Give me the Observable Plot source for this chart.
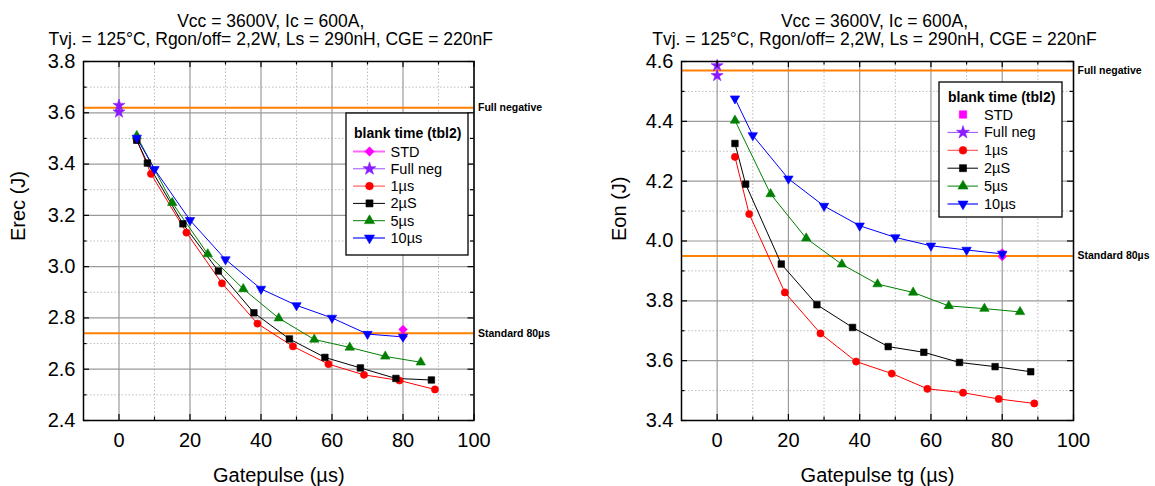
<!DOCTYPE html>
<html>
<head>
<meta charset="utf-8">
<script src="https://cdn.jsdelivr.net/npm/d3@7"></script>
<script src="https://cdn.jsdelivr.net/npm/@observablehq/plot@0.6"></script>
<style>
  html, body { margin: 0; padding: 0; background: #fff; }
  #wrap { position: relative; width: 1155px; height: 486px; overflow: hidden; }
  #wrap > .chart { position: absolute; top: 0; }
  #wrap > .legend { position: absolute; }
</style>
</head>
<body>
<div id="wrap"></div>
<script>
// ---------------- DATA ----------------
const titleLines = ["Vcc = 3600V, Ic = 600A,", "Tvj. = 125°C, Rgon/off= 2,2W, Ls = 290nH, CGE = 220nF"];
const legendTitle = "blank time (tbl2)";
const seriesNames = ["STD", "Full neg", "1µs", "2µS", "5µs", "10µs"];

const xTicks = [0, 20, 40, 60, 80, 100];
const xMinorTicks = [10, 30, 50, 70, 90];

// Left chart: Erec
const erecYTicks = [2.4, 2.6, 2.8, 3.0, 3.2, 3.4, 3.6, 3.8];
const erecYMinor = [2.5, 2.7, 2.9, 3.1, 3.3, 3.5, 3.7];
const erecX_STD = [80, 80];
const erecY_STD = [2.755, 2.728];
const erecX_FullNeg = [0, 0];
const erecY_FullNeg = [3.629, 3.603];
const erecX_1us = [5, 9, 19, 29, 39, 49, 59, 69, 79, 89];
const erecY_1us = [3.495, 3.362, 3.133, 2.935, 2.778, 2.689, 2.620, 2.578, 2.556, 2.521];
const erecX_2uS = [5, 8, 18, 28, 38, 48, 58, 68, 78, 88];
const erecY_2uS = [3.493, 3.404, 3.167, 2.983, 2.820, 2.718, 2.646, 2.605, 2.564, 2.558];
const erecX_5us = [5, 15, 25, 35, 45, 55, 65, 75, 85];
const erecY_5us = [3.510, 3.249, 3.049, 2.913, 2.799, 2.716, 2.685, 2.650, 2.627];
const erecX_10us = [5, 10, 20, 30, 40, 50, 60, 70, 80];
const erecY_10us = [3.502, 3.380, 3.181, 3.028, 2.913, 2.849, 2.800, 2.737, 2.726];
const erecRefValues = [3.62, 2.74];
const erecRefLabels = ["Full negative", "Standard 80µs"];

// Right chart: Eon
const eonYTicks = [3.4, 3.6, 3.8, 4.0, 4.2, 4.4, 4.6];
const eonYMinor = [3.5, 3.7, 3.9, 4.1, 4.3, 4.5];
const eonX_STD = [80, 80];
const eonY_STD = [3.960, 3.948];
const eonX_FullNeg = [0, 0];
const eonY_FullNeg = [4.586, 4.553];
const eonX_1us = [5, 9, 19, 29, 39, 49, 59, 69, 79, 89];
const eonY_1us = [4.281, 4.090, 3.828, 3.691, 3.597, 3.557, 3.506, 3.493, 3.472, 3.457];
const eonX_2uS = [5, 8, 18, 28, 38, 48, 58, 68, 78, 88];
const eonY_2uS = [4.326, 4.190, 3.923, 3.787, 3.711, 3.647, 3.628, 3.594, 3.580, 3.563];
const eonX_5us = [5, 15, 25, 35, 45, 55, 65, 75, 85];
const eonY_5us = [4.403, 4.157, 4.009, 3.922, 3.856, 3.828, 3.783, 3.774, 3.763];
const eonX_10us = [5, 10, 20, 30, 40, 50, 60, 70, 80];
const eonY_10us = [4.476, 4.353, 4.208, 4.117, 4.051, 4.012, 3.984, 3.970, 3.957];
const eonRefValues = [4.57, 3.95];
const eonRefLabels = ["Full negative", "Standard 80µs"];

// ---------------- STYLES ----------------
const FONT = "'Liberation Sans', Arial, Helvetica, sans-serif";
const STYLE = {
  "STD":      {color: "#ff00ff", line: "#ff66ff", lineW: 2,   symbol: "diamond2", r: 3.9, rotate: 0, connect: false},
  "Full neg": {color: "#8c1aff", line: "#9a4dff", lineW: 1,   symbol: "star",     r: 3.8, rotate: 0, connect: false},
  "1µs":      {color: "#ff0000", line: "#ff4040", lineW: 1,   symbol: "circle",   r: 3.6, rotate: 0, connect: true},
  "2µS":      {color: "#000000", line: "#000000", lineW: 1,   symbol: "square",   r: 3.7, rotate: 0, connect: true},
  "5µs":      {color: "#008000", line: "#008000", lineW: 1,   symbol: "triangle", r: 3.5, rotate: 0, connect: true},
  "10µs":     {color: "#0000ff", line: "#4d4dff", lineW: 1.6, symbol: "triangle", r: 3.5, rotate: 180, connect: true}
};

function rows(xs, ys) { return xs.map((x, i) => ({x, y: ys[i]})); }

function makeChart(cfg) {
  const H = 486, mt = 61, mb = 66;
  const fw = cfg.width - cfg.ml - cfg.mr, fh = H - mt - mb;
  const marks = [];
  // grid
  marks.push(Plot.gridX(xMinorTicks, {stroke: "#bdbdbd", strokeOpacity: 1, strokeWidth: 1, strokeDasharray: "1.5,2"}));
  marks.push(Plot.gridY(cfg.yMinor, {stroke: "#bdbdbd", strokeOpacity: 1, strokeWidth: 1, strokeDasharray: "1.5,2"}));
  marks.push(Plot.gridX(xTicks, {stroke: "#9a9a9a", strokeOpacity: 1, strokeWidth: 1.2}));
  marks.push(Plot.gridY(cfg.yTicks, {stroke: "#9a9a9a", strokeOpacity: 1, strokeWidth: 1.2}));
  // reference lines
  const refs = cfg.refValues.map((v, i) => ({v, label: cfg.refLabels[i]}));
  marks.push(Plot.ruleY(refs, {y: "v", stroke: "#ff8000", strokeWidth: 2}));
  // series
  cfg.series.forEach(s => {
    const st = STYLE[s.name];
    const data = rows(s.xs, s.ys);
    if (st.connect) marks.push(Plot.line(data, {x: "x", y: "y", stroke: st.color, strokeWidth: 1}));
  });
  cfg.series.forEach(s => {
    const st = STYLE[s.name];
    const data = rows(s.xs, s.ys);
    marks.push(Plot.dot(data, {x: "x", y: "y", symbol: st.symbol, r: st.r, rotate: st.rotate,
      fill: st.color, stroke: st.color, strokeWidth: 0.6}));
  });
  // frame
  marks.push(Plot.frame({stroke: "#000", strokeWidth: 1.5}));
  // inward ticks
  const tk = {stroke: "#000", strokeWidth: 1.2};
  marks.push(Plot.tickX(xTicks, {x: d => d, insetTop: fh - 6, ...tk}));
  marks.push(Plot.tickX(xTicks, {x: d => d, insetBottom: fh - 6, ...tk}));
  marks.push(Plot.tickX(xMinorTicks, {x: d => d, insetTop: fh - 3.5, ...tk}));
  marks.push(Plot.tickX(xMinorTicks, {x: d => d, insetBottom: fh - 3.5, ...tk}));
  marks.push(Plot.tickY(cfg.yTicks, {y: d => d, insetRight: fw - 6, ...tk}));
  marks.push(Plot.tickY(cfg.yTicks, {y: d => d, insetLeft: fw - 6, ...tk}));
  marks.push(Plot.tickY(cfg.yMinor, {y: d => d, insetRight: fw - 3.5, ...tk}));
  marks.push(Plot.tickY(cfg.yMinor, {y: d => d, insetLeft: fw - 3.5, ...tk}));
  // axes labels
  marks.push(Plot.axisX(xTicks, {anchor: "bottom", tickSize: 0, tickPadding: 12, fontSize: 20, label: null, fill: "#000"}));
  marks.push(Plot.axisY(cfg.yTicks, {anchor: "left", tickSize: 0, tickPadding: 8, fontSize: 20, label: null,
    tickFormat: d3.format(".1f"), fill: "#000"}));
  // reference labels
  marks.push(Plot.text(refs, {y: "v", text: "label", frameAnchor: "right", dx: 4, textAnchor: "start",
    fontWeight: "bold", fontSize: 10.5, fill: "#000"}));
  // titles
  marks.push(Plot.text([titleLines[0]], {text: d => d, frameAnchor: "top", lineAnchor: "middle",
    dy: -40, dx: cfg.titleDx, fontSize: 17.5, fill: "#000"}));
  marks.push(Plot.text([titleLines[1]], {text: d => d, frameAnchor: "top", lineAnchor: "middle",
    dy: -22, dx: cfg.titleDx, fontSize: 17.5, fill: "#000"}));
  // axis titles
  marks.push(Plot.text([cfg.xLabel], {text: d => d, frameAnchor: "bottom", lineAnchor: "middle",
    dy: 55, fontSize: 20, fill: "#000"}));
  marks.push(Plot.text([cfg.yLabel], {text: d => d, frameAnchor: "left", lineAnchor: "middle",
    dx: cfg.yLabelDx, rotate: -90, fontSize: 20, fill: "#000"}));

  const svg = Plot.plot({
    width: cfg.width, height: H,
    marginLeft: cfg.ml, marginRight: cfg.mr, marginTop: mt, marginBottom: mb,
    x: {domain: [-10, 100]},
    y: {domain: cfg.yDomain},
    style: {fontFamily: FONT, background: "#fff", overflow: "visible", color: "#000"},
    marks
  });
  svg.classList.add("chart");
  svg.style.left = cfg.left + "px";
  return svg;
}

function makeLegend(cfg) {
  const svg = d3.create("svg").attr("class", "legend")
    .attr("width", cfg.w + 2).attr("height", cfg.h + 2)
    .style("left", (cfg.x - 1) + "px").style("top", (cfg.y - 1) + "px")
    .style("font-family", FONT);
  const g = svg.append("g").attr("transform", "translate(1,1)");
  g.append("rect").attr("width", cfg.w).attr("height", cfg.h).attr("fill", "#fff")
    .attr("stroke", "#000").attr("stroke-width", 1.3);
  g.append("text").attr("x", cfg.titleX).attr("y", cfg.titleY).attr("dy", "0.35em")
    .attr("font-size", 14).attr("font-weight", "bold").text(legendTitle);
  const symMap = {circle: d3.symbolCircle, square: d3.symbolSquare, triangle: d3.symbolTriangle,
    star: d3.symbolStar, diamond2: d3.symbolDiamond2};
  seriesNames.forEach((name, i) => {
    const st = STYLE[name];
    const y = cfg.row0 + i * cfg.rowStep;
    const noLine = cfg.markerOnly && cfg.markerOnly.includes(name);
    if (!noLine) {
      g.append("line").attr("x1", cfg.lineX1).attr("x2", cfg.lineX2).attr("y1", y).attr("y2", y)
        .attr("stroke", st.line).attr("stroke-width", st.lineW);
    }
    const sym = noLine ? d3.symbolSquare : symMap[st.symbol];
    g.append("path")
      .attr("d", d3.symbol().type(sym).size(st.r * st.r * Math.PI * 1.15)())
      .attr("transform", `translate(${cfg.markX},${y}) rotate(${st.rotate})`)
      .attr("fill", st.color).attr("stroke", st.color).attr("stroke-width", 0.6);
    g.append("text").attr("x", cfg.textX).attr("y", y).attr("dy", "0.35em").attr("font-size", 14.5)
      .text(name);
  });
  return svg.node();
}

const wrap = document.getElementById("wrap");

wrap.appendChild(makeChart({
  left: 0, width: 580, ml: 83, mr: 106.5,
  yDomain: [2.4, 3.8], yTicks: erecYTicks, yMinor: erecYMinor,
  refValues: erecRefValues, refLabels: erecRefLabels,
  xLabel: "Gatepulse (µs)", yLabel: "Erec (J)", yLabelDx: -65, titleDx: -8,
  series: [
    {name: "STD", xs: erecX_STD, ys: erecY_STD},
    {name: "Full neg", xs: erecX_FullNeg, ys: erecY_FullNeg},
    {name: "1µs", xs: erecX_1us, ys: erecY_1us},
    {name: "2µS", xs: erecX_2uS, ys: erecY_2uS},
    {name: "5µs", xs: erecX_5us, ys: erecY_5us},
    {name: "10µs", xs: erecX_10us, ys: erecY_10us}
  ]
}));

wrap.appendChild(makeChart({
  left: 580, width: 575, ml: 101, mr: 82,
  yDomain: [3.4, 4.6], yTicks: eonYTicks, yMinor: eonYMinor,
  refValues: eonRefValues, refLabels: eonRefLabels,
  xLabel: "Gatepulse tg (µs)", yLabel: "Eon (J)", yLabelDx: -62, titleDx: -3,
  series: [
    {name: "STD", xs: eonX_STD, ys: eonY_STD},
    {name: "Full neg", xs: eonX_FullNeg, ys: eonY_FullNeg},
    {name: "1µs", xs: eonX_1us, ys: eonY_1us},
    {name: "2µS", xs: eonX_2uS, ys: eonY_2uS},
    {name: "5µs", xs: eonX_5us, ys: eonY_5us},
    {name: "10µs", xs: eonX_10us, ys: eonY_10us}
  ]
}));

wrap.appendChild(makeLegend({
  x: 346, y: 113, w: 122, h: 142,
  titleX: 8, titleY: 20, row0: 38.5, rowStep: 17.3,
  lineX1: 7, lineX2: 39, markX: 23.5, textX: 44.5
}));

wrap.appendChild(makeLegend({
  x: 939, y: 82, w: 123, h: 135,
  titleX: 9, titleY: 15.5, row0: 32.5, rowStep: 17.9,
  lineX1: 8.5, lineX2: 39, markX: 24, textX: 45,
  markerOnly: ["STD"]
}));
</script>
</body>
</html>
